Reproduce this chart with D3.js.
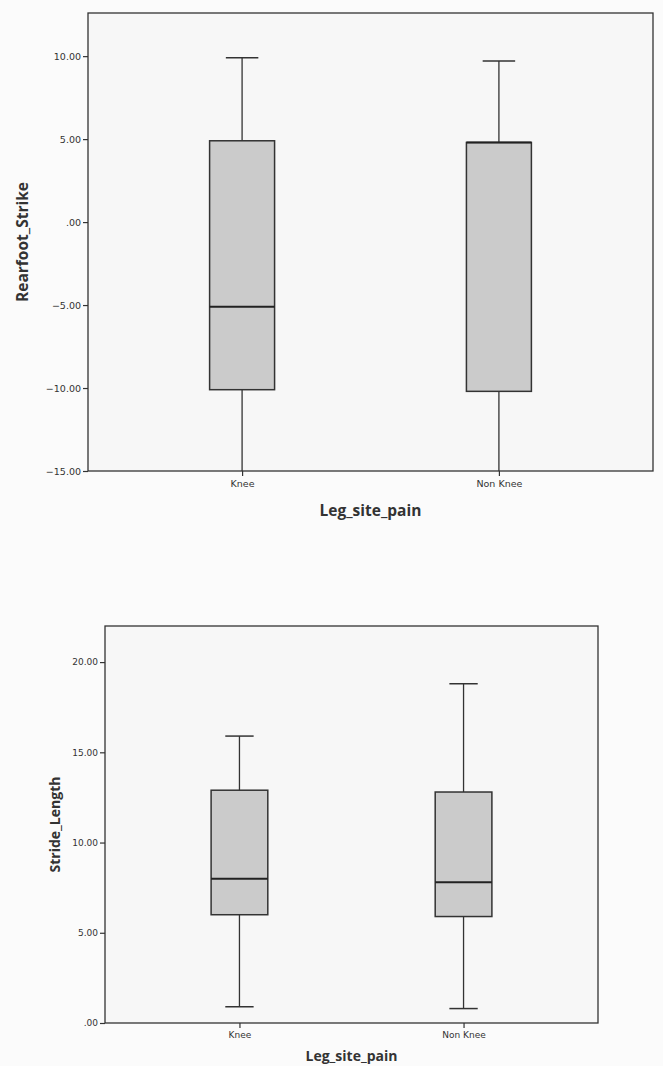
<!DOCTYPE html>
<html>
<head>
<meta charset="utf-8">
<script src="https://cdn.jsdelivr.net/npm/d3@7"></script>
<style>
  body { margin: 0; background: #fbfbfb; }
  svg { display: block; }
  .tick text { font-family: "DejaVu Sans", sans-serif; fill: #333; }
  .axis-title { font-family: "Open Sans", sans-serif; font-weight: bold; fill: #333; }
</style>
</head>
<body>
<div id="chart"></div>
<script>
// Categories shared by both panels
const groups = ["Knee", "Non Knee"];

// Rearfoot_Strike box stats per group: [lowWhisker, q1, median, q3, highWhisker]
const rearfootStats = [
  [-15.0, -10.1, -5.1, 4.9, 9.9],
  [-15.0, -10.2, 4.8, 4.8, 9.7]
];
const rearfootTicks = [-15, -10, -5, 0, 5, 10];

// Stride_Length box stats per group
const strideStats = [
  [0.9, 6.0, 8.0, 12.9, 15.9],
  [0.8, 5.9, 7.8, 12.8, 18.8]
];
const strideTicks = [0, 5, 10, 15, 20];

const W = 663, H = 1066;
const svg = d3.select("#chart").append("svg")
  .attr("width", W)
  .attr("height", H);

// SPSS style labels: "10.00", ".00", "-5.00"
function spssFormat(v) {
  let s = d3.format(".2f")(v);
  if (v === 0) s = ".00";
  return s;
}

function drawPanel(opts) {
  const x = d3.scalePoint().domain(groups).range([opts.left, opts.right]).padding(0.6);
  const y = d3.scaleLinear().domain(opts.domain).range([opts.bottom, opts.top]);
  const boxW = (opts.right - opts.left) * 0.115;

  // plot area
  svg.append("rect")
    .attr("x", opts.left).attr("y", opts.top)
    .attr("width", opts.right - opts.left)
    .attr("height", opts.bottom - opts.top)
    .attr("fill", "#f7f7f7")
    .attr("stroke", "#333")
    .attr("stroke-width", 1.3);

  const g = svg.selectAll(null)
    .data(opts.stats.map((s, i) => ({ group: groups[i], s: s })))
    .enter().append("g");

  // whiskers
  g.append("line")
    .attr("x1", d => x(d.group)).attr("x2", d => x(d.group))
    .attr("y1", d => y(d.s[3])).attr("y2", d => y(d.s[4]))
    .attr("stroke", "#333").attr("stroke-width", 1.3);
  g.append("line")
    .attr("x1", d => x(d.group)).attr("x2", d => x(d.group))
    .attr("y1", d => y(d.s[0])).attr("y2", d => y(d.s[1]))
    .attr("stroke", "#333").attr("stroke-width", 1.3);

  // caps (skipped where whisker ends on the axis)
  g.filter(d => d.s[4] < opts.domain[1])
    .append("line")
    .attr("x1", d => x(d.group) - boxW / 4).attr("x2", d => x(d.group) + boxW / 4)
    .attr("y1", d => y(d.s[4])).attr("y2", d => y(d.s[4]))
    .attr("stroke", "#333").attr("stroke-width", 1.5);
  g.filter(d => d.s[0] > opts.domain[0])
    .append("line")
    .attr("x1", d => x(d.group) - boxW / 4).attr("x2", d => x(d.group) + boxW / 4)
    .attr("y1", d => y(d.s[0])).attr("y2", d => y(d.s[0]))
    .attr("stroke", "#333").attr("stroke-width", 1.5);

  // box
  g.append("rect")
    .attr("x", d => x(d.group) - boxW / 2)
    .attr("y", d => y(d.s[3]))
    .attr("width", boxW)
    .attr("height", d => y(d.s[1]) - y(d.s[3]))
    .attr("fill", "#cbcbcb")
    .attr("stroke", "#333")
    .attr("stroke-width", 1.5);

  // median
  g.append("line")
    .attr("x1", d => x(d.group) - boxW / 2).attr("x2", d => x(d.group) + boxW / 2)
    .attr("y1", d => y(d.s[2])).attr("y2", d => y(d.s[2]))
    .attr("stroke", "#222").attr("stroke-width", 2);

  // axes
  const yAxis = svg.append("g")
    .attr("transform", "translate(" + opts.left + ",0)")
    .call(d3.axisLeft(y).tickValues(opts.ticks).tickFormat(spssFormat).tickSize(5).tickPadding(2));
  yAxis.select(".domain").remove();
  yAxis.selectAll(".tick line").attr("stroke", "#333").attr("stroke-width", 1.2);
  yAxis.selectAll(".tick text").style("font-size", opts.tickFont + "px");

  const xAxis = svg.append("g")
    .attr("transform", "translate(0," + opts.bottom + ")")
    .call(d3.axisBottom(x).tickSize(5).tickPadding(4));
  xAxis.select(".domain").remove();
  xAxis.selectAll(".tick line").attr("stroke", "#333").attr("stroke-width", 1.2);
  xAxis.selectAll(".tick text").style("font-size", opts.tickFont + "px");

  // titles
  svg.append("text")
    .attr("class", "axis-title")
    .attr("x", (opts.left + opts.right) / 2)
    .attr("y", opts.bottom + opts.xTitleOffset)
    .attr("text-anchor", "middle")
    .style("font-size", opts.titleFont + "px")
    .text("Leg_site_pain");

  svg.append("text")
    .attr("class", "axis-title")
    .attr("transform", "translate(" + opts.yTitleX + "," + ((opts.top + opts.bottom) / 2) + ") rotate(-90)")
    .attr("text-anchor", "middle")
    .style("font-size", opts.titleFont + "px")
    .text(opts.yTitle);
}

drawPanel({
  left: 88, right: 653, top: 13, bottom: 471,
  domain: [-15, 12.6],
  stats: rearfootStats, ticks: rearfootTicks,
  yTitle: "Rearfoot_Strike", yTitleX: 28,
  xTitleOffset: 45, titleFont: 15.5, tickFont: 9.5
});

drawPanel({
  left: 105, right: 598, top: 626, bottom: 1023,
  domain: [0, 22.0],
  stats: strideStats, ticks: strideTicks,
  yTitle: "Stride_Length", yTitleX: 60,
  xTitleOffset: 38, titleFont: 14, tickFont: 9
});
</script>
</body>
</html>
